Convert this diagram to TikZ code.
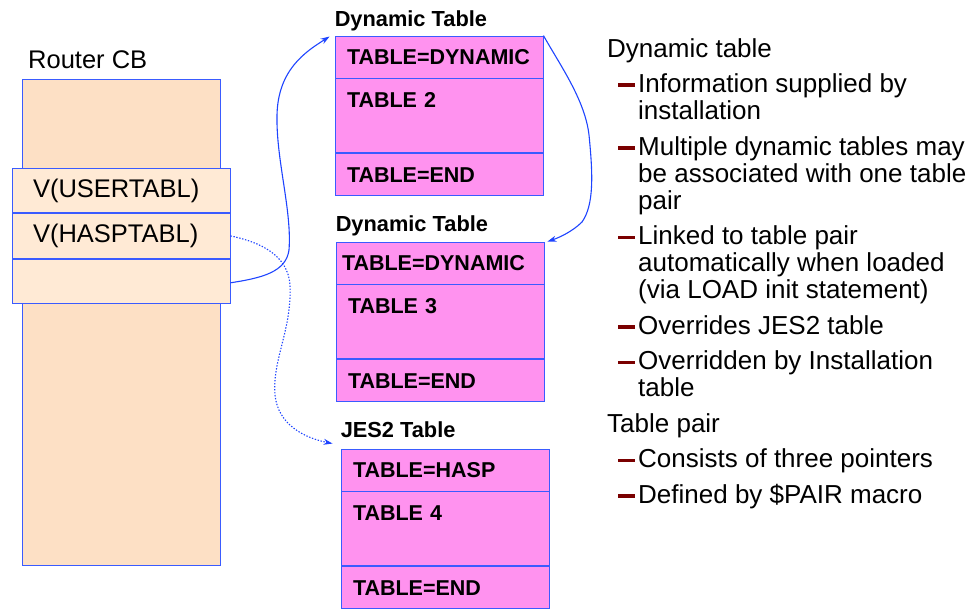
\documentclass[tikz,border=0pt]{standalone}
\usepackage{fontspec}
\setmainfont{Liberation Sans}
\usepackage{xcolor}
\usepackage{tikz}
\usetikzlibrary{positioning,arrows.meta}
\definecolor{peach}{HTML}{FDE0C5}
\definecolor{peachlt}{HTML}{FFEAD5}
\definecolor{magfill}{HTML}{FF92EF}
\definecolor{edge}{HTML}{3A5BFF}
\definecolor{link}{HTML}{1E44FF}
\definecolor{bulred}{HTML}{7A0000}
\newcommand{\dashbul}{\leavevmode\llap{\textcolor{bulred}{\rule[5.5pt]{16.5pt}{3.5pt}}\hspace{3.5pt}}}
\newcommand{\notehead}[1]{\par\leftskip=0pt\relax #1\par}
\newcommand{\noteitem}[1]{\par\leftskip=31pt\relax\dashbul #1\par}
\tikzset{
  cbcol/.style={draw=edge, fill=peach, line width=0.9pt, minimum width=198pt, minimum height=486pt, inner sep=0pt},
  cbrow/.style={draw=edge, fill=peachlt, line width=0.9pt, minimum height=44.5pt, inner xsep=21pt, inner ysep=0pt,
    text width=176pt, align=left, font=\fontsize{25.5}{28}\selectfont},
  tabrow/.style={draw=edge, fill=magfill, line width=0.9pt, minimum height=42pt, inner xsep=12pt, inner ysep=0pt,
    text width=184pt, align=left, font=\fontsize{21.5}{24}\selectfont\bfseries},
  tabbig/.style={tabrow, minimum height=74pt, text height=28.5pt, text depth=45.5pt},
  ttl/.style={anchor=base west, inner sep=0pt, font=\fontsize{21.8}{24}\selectfont\bfseries},
  lbl/.style={anchor=base west, inner sep=0pt, font=\fontsize{25.5}{28}\selectfont},
  ptr/.style={draw=link, line width=1.1pt, -{Stealth[length=9pt,width=6pt]}},
  ptrdot/.style={ptr, dash pattern=on 1.4pt off 1.6pt}
}

\begin{document}
\begin{tikzpicture}[x=1pt, y=-1pt]
    \useasboundingbox (0,0) rectangle (974,610);

    % --- ROUTER CB ---
    \node[lbl] (rlbl) at (28,69) {Router CB};
    \node[cbcol] (rcb) at (121,322) {};
    \node[cbrow] (r1) at (121,190.5) {V(USERTABL)};
    \node[cbrow, below=0pt of r1] (r2) {V(HASPTABL)};
    \node[cbrow, below=0pt of r2] (r3) {};

    % --- DYNAMIC TABLE (2) ---
    \node[tabrow] (d1a) at (439,57) {TABLE=DYNAMIC};
    \node[tabbig, below=0pt of d1a] (d1b) {TABLE 2};
    \node[tabrow, below=0pt of d1b] (d1c) {TABLE=END};
    \node[ttl] (t1) at ([yshift=9pt]d1a.north west) {Dynamic Table};

    % --- DYNAMIC TABLE (3) ---
    \node[tabrow, inner xsep=6pt, text width=196pt] (d2a) at (440,263) {TABLE=DYNAMIC};
    \node[tabbig, below=0pt of d2a] (d2b) {TABLE 3};
    \node[tabrow, below=0pt of d2b] (d2c) {TABLE=END};
    \node[ttl] (t2) at ([yshift=10pt]d2a.north west) {Dynamic Table};

    % --- JES2 TABLE ---
    \node[tabrow] (j1) at (445,470) {TABLE=HASP};
    \node[tabbig, below=0pt of j1] (j2) {TABLE 4};
    \node[tabrow, below=0pt of j2] (j3) {TABLE=END};
    \node[ttl] (t3) at ([yshift=11pt]j1.north west) {JES2 Table};

    % --- POINTERS ---
    \draw[ptr] ([yshift=-1.5pt]r3.east) .. controls (262,278) and (286,272) .. (289,250)
        .. controls (292,210) and (276,160) .. (277,115)
        .. controls (278,70) and (305,52) .. ([xshift=-5pt,yshift=-1pt]d1a.north west);
    \draw[ptr] (d1a.north east) .. controls (560,65) and (585,100) .. (589,135)
        .. controls (593,175) and (594,205) .. (582,222)
        .. controls (572,232) and (558,238) .. ([xshift=3pt]d2a.north east);
    \draw[ptrdot] (r2.east) .. controls (260,242) and (288,255) .. (290,285)
        .. controls (292,330) and (272,360) .. (275,395)
        .. controls (278,425) and (305,438) .. ([xshift=-8pt,yshift=5pt]j1.north west);

    % --- NOTES ---
    \node[anchor=base west, inner sep=0pt] (notes) at (607,57) {\parbox[t]{362pt}{%
        \fontsize{26}{27}\selectfont\setlength{\parskip}{8.5pt}%
        \notehead{Dynamic table}
        \noteitem{Information supplied by\\installation}
        \noteitem{Multiple dynamic tables may\\be associated with one table\\pair}
        \noteitem{Linked to table pair\\automatically when loaded\\(via LOAD init statement)}
        \noteitem{Overrides JES2 table}
        \noteitem{Overridden by Installation\\table}
        \notehead{Table pair}
        \noteitem{Consists of three pointers}
        \noteitem{Defined by \$PAIR macro}}};
\end{tikzpicture}
\end{document}
